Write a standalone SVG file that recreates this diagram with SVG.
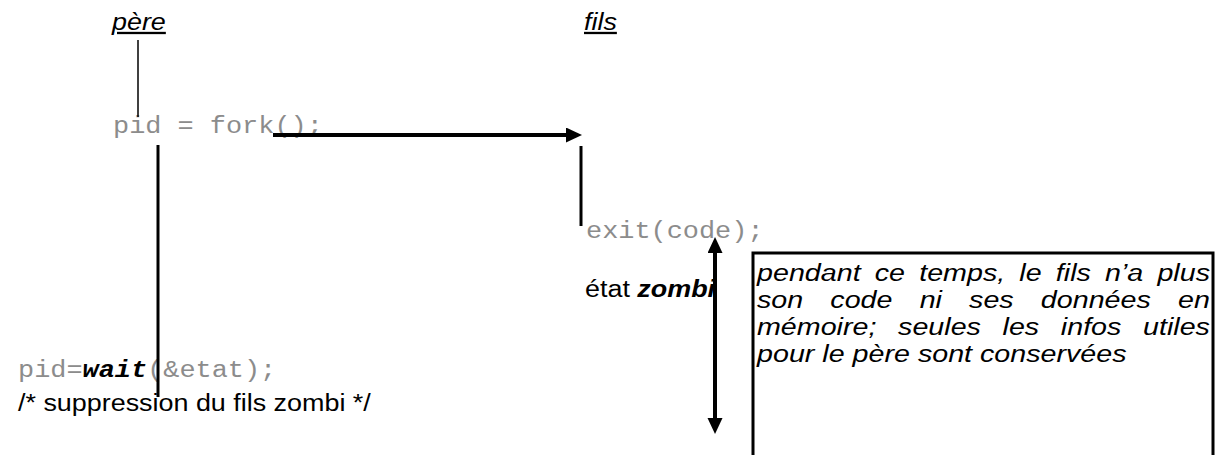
<svg xmlns="http://www.w3.org/2000/svg" width="1222" height="455" viewBox="0 0 1222 455">
  <style>
    .sans { font-family: "Liberation Sans", Arial, sans-serif; fill: #000; }
    .mono { font-family: "Liberation Mono", "Courier New", monospace; fill: #8c8c8c; }
    .lbl { font-size: 23px; }
    .head { font-size: 23px; font-style: italic; text-decoration: underline; }
    .note { font-size: 24.5px; font-style: italic; }
    .bi { font-weight: bold; font-style: italic; fill: #000; }
    .thin { stroke: #000; stroke-width: 1.5; fill: none; }
    .thick { stroke: #000; stroke-width: 3; fill: none; }
    .arrow { stroke: #000; stroke-width: 4; fill: none; }
  </style>
  <defs>
    <marker id="head" markerUnits="userSpaceOnUse" markerWidth="16" markerHeight="16" refX="0" refY="7.5" orient="auto-start-reverse">
      <path d="M0,0 L16,7.5 L0,15 z" fill="#000"/>
    </marker>
  </defs>

  <rect width="1222" height="455" fill="#fff"/>

  <!-- column headings -->
  <g id="pere">
    <text class="sans head" transform="translate(112,30) scale(1.17,1)">père</text>
  </g>
  <g id="fils">
    <text class="sans head" transform="translate(584,30) scale(1.17,1)">fils</text>
  </g>

  <!-- parent: fork -->
  <g id="fork">
    <text class="mono lbl" transform="translate(113,133) scale(1.17,1)">pid = fork();</text>
  </g>

  <!-- child: exit -->
  <g id="exit">
    <text class="mono lbl" transform="translate(586,238) scale(1.17,1)">exit(code);</text>
  </g>

  <!-- zombie state label -->
  <g id="zombie">
    <text class="sans lbl" transform="translate(585,297) scale(1.17,1)">état <tspan font-weight="bold" font-style="italic">zombi</tspan></text>
  </g>

  <!-- parent: wait -->
  <g id="wait">
    <text class="mono lbl" transform="translate(18,377) scale(1.17,1)">pid=<tspan class="bi">wait</tspan>(&amp;etat);</text>
    <text class="sans lbl" transform="translate(18,411) scale(1.17,1)">/* suppression du fils zombi */</text>
  </g>

  <!-- explanatory note -->
  <g id="note">
    <rect x="753" y="253" width="460" height="230" fill="#fff" stroke="#000" stroke-width="3"/>
    <g class="sans note">
      <text transform="translate(757,281) scale(1.17,1)" word-spacing="5.3">pendant ce temps, le fils n’a plus</text>
      <text transform="translate(757,308) scale(1.17,1)" word-spacing="16.4">son code ni ses données en</text>
      <text transform="translate(757,335) scale(1.17,1)" word-spacing="11.7">mémoire; seules les infos utiles</text>
      <text transform="translate(757,362) scale(1.17,1)">pour le père sont conservées</text>
    </g>
  </g>

  <!-- connectors -->
  <g id="connectors">
    <line class="thin" x1="138" y1="40" x2="138" y2="117"/>
    <line class="thick" x1="158" y1="145" x2="158" y2="397"/>
    <line class="arrow" x1="273" y1="135" x2="566" y2="135" marker-end="url(#head)"/>
    <line class="thick" x1="581" y1="146" x2="581" y2="226"/>
    <line class="arrow" x1="715" y1="253" x2="715" y2="418" marker-start="url(#head)" marker-end="url(#head)"/>
  </g>
</svg>
